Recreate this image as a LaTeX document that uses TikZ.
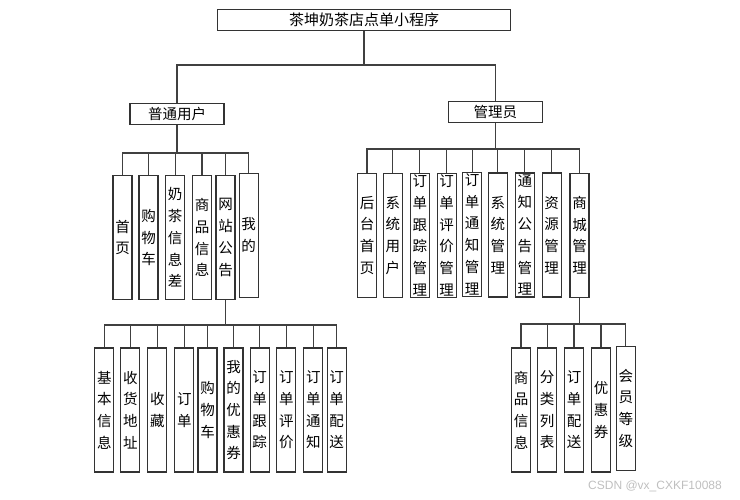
\documentclass[tikz,border=0pt]{standalone}
\usepackage{fontspec}
\newfontfamily\cjk{Noto Sans CJK SC}
\newfontfamily\wmfont{Liberation Sans}
\begin{document}
\begin{tikzpicture}[x=1pt,y=-1pt,
    box/.style={draw=black!80, line width=1.1pt, fill=white, inner sep=0pt, align=center,
        font=\cjk\fontsize{14.5}{21.7}\selectfont},
    hbox/.style={box, minimum width=94pt, minimum height=20.5pt},
    vbox/.style={box, minimum width=19pt, minimum height=124pt},
    link/.style={draw=black!75, line width=1.1pt}]
    \useasboundingbox (0,0) rectangle (740,499);
    % levels of the horizontal bars
    \coordinate (bar0) at (0,65);
    \coordinate (bar1) at (0,153);
    \coordinate (bar2) at (0,149);
    \coordinate (bar3) at (0,325);
    \coordinate (bar4) at (0,324);
    % top and second level
    \node[hbox, minimum width=293pt, font=\cjk\fontsize{15}{18}\selectfont] (root) at (364,19.8) {茶坤奶茶店点单小程序};
    \node[hbox] (user) at (177,113.8) {普通用户};
    \node[hbox] (admin) at (495.3,112) {管理员};
    % user side
    \node[vbox] (home) at (122.5,237.5) {首\\页};
    \node[vbox] (cart) at (148.5,237.5) {购\\物\\车};
    \node[vbox] (teainfo) at (175.2,237.5) {奶\\茶\\信\\息\\差};
    \node[vbox] (goods) at (202,237.5) {商\\品\\信\\息};
    \node[vbox] (notice) at (225.5,237.5) {网\\站\\公\\告};
    \node[vbox] (mine) at (248.7,235.2) {我\\的};
    % admin side
    \node[vbox] (bhome) at (367,235.3) {后\\台\\首\\页};
    \node[vbox] (suser) at (392.8,235.3) {系\\统\\用\\户};
    \node[vbox] (otrack) at (419.8,235.3) {订\\单\\跟\\踪\\管\\理};
    \node[vbox] (orate) at (446.7,235.3) {订\\单\\评\\价\\管\\理};
    \node[vbox] (onotify) at (472.2,234.2) {订\\单\\通\\知\\管\\理};
    \node[vbox] (sysmgr) at (497.8,235) {系\\统\\管\\理};
    \node[vbox] (ntmgr) at (524.8,235) {通\\知\\公\\告\\管\\理};
    \node[vbox] (resmgr) at (551.7,235) {资\\源\\管\\理};
    \node[vbox] (mallmgr) at (579.5,235.3) {商\\城\\管\\理};
    % below the notice box
    \node[vbox] (basic) at (104.3,410) {基\\本\\信\\息};
    \node[vbox] (addr) at (130.3,410) {收\\货\\地\\址};
    \node[vbox] (fav) at (157.3,410) {收\\藏};
    \node[vbox] (order) at (184.3,410) {订\\单};
    \node[vbox] (ucart) at (207.5,410) {购\\物\\车};
    \node[vbox] (coupon) at (233.5,410) {我\\的\\优\\惠\\券};
    \node[vbox] (utrack) at (259.7,410) {订\\单\\跟\\踪};
    \node[vbox] (urate) at (286.3,410) {订\\单\\评\\价};
    \node[vbox] (unotify) at (313.3,410) {订\\单\\通\\知};
    \node[vbox] (udeliver) at (336.7,410) {订\\单\\配\\送};
    % below the mall box
    \node[vbox] (mgoods) at (521,410) {商\\品\\信\\息};
    \node[vbox] (mcat) at (547.2,410) {分\\类\\列\\表};
    \node[vbox] (mdeliver) at (574,410) {订\\单\\配\\送};
    \node[vbox] (mcoupon) at (601,410) {优\\惠\\券};
    \node[vbox] (mlevel) at (625.8,408.3) {会\\员\\等\\级};
    % connectors
    \foreach \n in {user,admin}
        \draw[link] (root.south) -- (root.south |- bar0) -| (\n.north);
    \foreach \n in {home,cart,teainfo,goods,notice,mine}
        \draw[link] (user.south) -- (user.south |- bar1) -| (\n.north);
    \foreach \n in {bhome,suser,otrack,orate,onotify,sysmgr,ntmgr,resmgr,mallmgr}
        \draw[link] (admin.south) -- (admin.south |- bar2) -| (\n.north);
    \foreach \n in {basic,addr,fav,order,ucart,coupon,utrack,urate,unotify,udeliver}
        \draw[link] (notice.south) -- (notice.south |- bar3) -| (\n.north);
    \foreach \n in {mgoods,mcat,mdeliver,mcoupon,mlevel}
        \draw[link] (mallmgr.south) -- (mallmgr.south |- bar4) -| (\n.north);
    % watermark
    \node[font=\wmfont\fontsize{12}{12}\selectfont, text=black!25, anchor=east, inner sep=0pt] (mark) at (722,486) {CSDN @vx\_CXKF10088};
\end{tikzpicture}
\end{document}
